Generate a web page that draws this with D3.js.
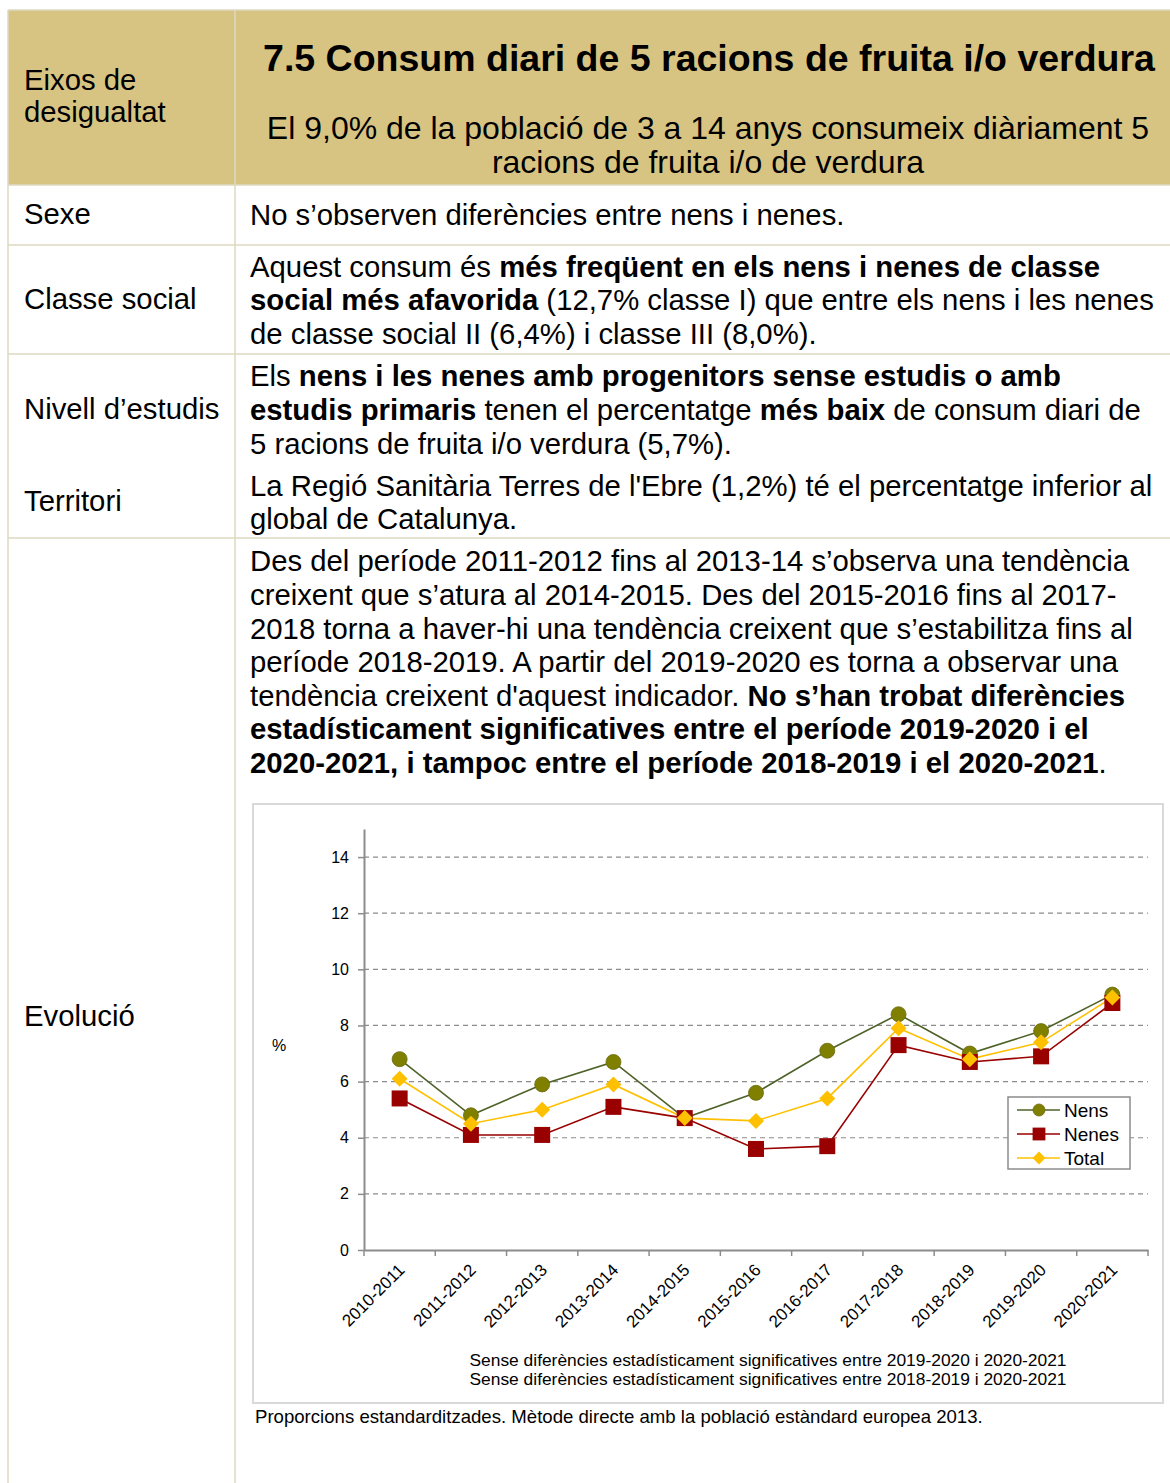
<!DOCTYPE html>
<html><head><meta charset="utf-8">
<script src="https://cdn.jsdelivr.net/npm/d3@7"></script>
<style>
html,body{margin:0;padding:0;background:#fff;}
svg text{font-family:"Liberation Sans",Arial,sans-serif;fill:#000;}
</style></head>
<body>
<svg id="chart" width="1170" height="1483"></svg>
<script>
// ---- data ----
const categories = ["2010-2011","2011-2012","2012-2013","2013-2014","2014-2015","2015-2016","2016-2017","2017-2018","2018-2019","2019-2020","2020-2021"];
const nens  = [6.8, 4.8, 5.9, 6.7, 4.7, 5.6, 7.1, 8.4, 7.0, 7.8, 9.1];
const nenes = [5.4, 4.1, 4.1, 5.1, 4.7, 3.6, 3.7, 7.3, 6.7, 6.9, 8.8];
const total = [6.1, 4.5, 5.0, 5.9, 4.7, 4.6, 5.4, 7.9, 6.8, 7.4, 9.0];
const yTicks = [0, 2, 4, 6, 8, 10, 12, 14];
const seriesNames = ["Nens", "Nenes", "Total"];
const notes = ["Sense diferències estadísticament significatives entre 2019-2020 i 2020-2021",
               "Sense diferències estadísticament significatives entre 2018-2019 i 2020-2021"];
const footer = "Proporcions estandarditzades. Mètode directe amb la població estàndard europea 2013.";

const svg = d3.select("#chart");
const lineC = "#ddd8c0";

// ---- table frame ----
svg.append("rect").attr("x",8).attr("y",10).attr("width",1162).attr("height",175).attr("fill","#d8c482");
[10,185,245,354,538].forEach(y=>{
  svg.append("line").attr("x1",8).attr("x2",1170).attr("y1",y).attr("y2",y).attr("stroke",lineC).attr("stroke-width",1.5);
});
[8,235].forEach(x=>{
  svg.append("line").attr("x1",x).attr("x2",x).attr("y1",10).attr("y2",1483).attr("stroke",lineC).attr("stroke-width",1.5);
});

function richLine(x, y, segs, size, anchor){
  const t = svg.append("text").attr("x",x).attr("y",y).attr("font-size",size).attr("text-anchor",anchor||"start");
  segs.forEach(s=>{
    t.append("tspan").text(s[0]).attr("font-weight", s[1] ? "bold" : "normal");
  });
  return t;
}
const FS = 29.3;
// left column labels
[["Eixos de",90],["desigualtat",122],["Sexe",224],["Classe social",309],["Nivell d’estudis",419],["Territori",511],["Evolució",1026]]
  .forEach(([t,y])=> richLine(24,y,[[t,false]],FS));

// header
richLine(709,71,[["7.5  Consum diari de 5 racions de fruita i/o verdura",true]],37.5,"middle");
richLine(708,139,[["El 9,0% de la població de 3 a 14 anys consumeix diàriament 5",false]],32,"middle");
richLine(708,173,[["racions de fruita i/o de verdura",false]],32,"middle");

const body = [
  [225, [["No s’observen diferències entre nens i nenes.",false]]],
  [277, [["Aquest consum és ",false],["més freqüent en els nens i nenes de classe",true]]],
  [310, [["social més afavorida",true],[" (12,7% classe I) que entre els nens i les nenes",false]]],
  [344, [["de classe social II (6,4%) i classe III (8,0%).",false]]],
  [386, [["Els ",false],["nens i les nenes amb progenitors sense estudis o amb",true]]],
  [420, [["estudis primaris",true],[" tenen el percentatge ",false],["més baix",true],[" de consum diari de",false]]],
  [454, [["5 racions de fruita i/o verdura (5,7%).",false]]],
  [496, [["La Regió Sanitària Terres de l'Ebre (1,2%) té el percentatge inferior al",false]]],
  [529, [["global de Catalunya.",false]]],
  [571, [["Des del període 2011-2012 fins al 2013-14 s’observa una tendència",false]]],
  [605, [["creixent que s’atura al 2014-2015. Des del 2015-2016 fins al 2017-",false]]],
  [639, [["2018 torna a haver-hi una tendència creixent que s’estabilitza fins al",false]]],
  [672, [["període 2018-2019. A partir del 2019-2020 es torna a observar una",false]]],
  [706, [["tendència creixent d'aquest indicador. ",false],["No s’han trobat diferències",true]]],
  [739, [["estadísticament significatives entre el període 2019-2020 i el",true]]],
  [773, [["2020-2021, i tampoc entre el període 2018-2019 i el 2020-2021",true],[".",false]]]
];
body.forEach(([y,segs])=> richLine(250,y,segs,FS));

// ---- chart ----
svg.append("rect").attr("x",253).attr("y",804).attr("width",910).attr("height",599)
  .attr("fill","#fff").attr("stroke","#d9d9d9").attr("stroke-width",2);

const x = d3.scaleBand().domain(categories).range([364,1148]);
const y = d3.scaleLinear().domain([0,15]).range([1250,829]);
const axisC = "#8c8c8c";

// gridlines
svg.append("g").selectAll("line").data(yTicks.filter(d=>d>0)).join("line")
  .attr("x1",364).attr("x2",1148).attr("y1",d=>y(d)).attr("y2",d=>y(d))
  .attr("stroke","#8c8c8c").attr("stroke-width",1.2).attr("stroke-dasharray","5,4");

// y axis
const yAxis = d3.axisLeft(y).tickValues(yTicks).tickSize(6).tickPadding(9).tickSizeOuter(0);
const gy = svg.append("g").attr("transform","translate(364,0)").call(yAxis);
gy.select(".domain").attr("stroke",axisC).attr("stroke-width",2);
gy.selectAll(".tick line").attr("stroke",axisC).attr("stroke-width",1.5);
gy.selectAll(".tick text").attr("font-size",16).attr("font-family","Liberation Sans, Arial, sans-serif").attr("fill","#000");

// x axis
const xAxis = d3.axisBottom(x).tickSize(0).tickSizeOuter(0);
const gx = svg.append("g").attr("transform","translate(0,1250)").call(xAxis);
gx.select(".domain").attr("stroke",axisC).attr("stroke-width",2);
gx.selectAll(".tick line").remove();
gx.selectAll(".tick text").attr("font-size",17).attr("font-family","Liberation Sans, Arial, sans-serif").attr("fill","#000")
  .attr("text-anchor","end").attr("dy",0).attr("y",0)
  .attr("transform","translate(6,21) rotate(-45)");
// boundary ticks
const bounds = categories.map(c=>x(c)).concat([x.range()[1]]);
svg.append("g").selectAll("line").data(bounds).join("line")
  .attr("x1",d=>d).attr("x2",d=>d).attr("y1",1250).attr("y2",1256)
  .attr("stroke",axisC).attr("stroke-width",1.5);

svg.append("text").attr("x",272).attr("y",1051).attr("font-size",16).text("%");

const cx = c => x(c) + x.bandwidth()/2;
const series = [
  {name:seriesNames[0], vals:nens,  line:"#4f6228", fill:"#7f7f00", shape:"circle"},
  {name:seriesNames[1], vals:nenes, line:"#990000", fill:"#990000", shape:"square"},
  {name:seriesNames[2], vals:total, line:"#ffc000", fill:"#ffc000", shape:"diamond"}
];
const lineGen = d3.line().x((d,i)=>cx(categories[i])).y(d=>y(d));
function marker(g, shape, fill, px, py, scale){
  scale = scale||1;
  if(shape==="circle") g.append("circle").attr("cx",px).attr("cy",py).attr("r",7.5*scale).attr("fill",fill).attr("stroke","#6b6b10").attr("stroke-width",0.8);
  else if(shape==="square") g.append("rect").attr("x",px-8*scale).attr("y",py-8*scale).attr("width",16*scale).attr("height",16*scale).attr("fill",fill);
  else g.append("path").attr("d",`M${px},${py-8*scale}L${px+8*scale},${py}L${px},${py+8*scale}L${px-8*scale},${py}Z`).attr("fill",fill);
}
series.forEach(s=>{
  svg.append("path").attr("d",lineGen(s.vals)).attr("fill","none").attr("stroke",s.line).attr("stroke-width",1.6);
});
series.forEach(s=>{
  const g = svg.append("g");
  s.vals.forEach((v,i)=> marker(g, s.shape, s.fill, cx(categories[i]), y(v)));
});

// legend
const lg = svg.append("g");
lg.append("rect").attr("x",1008).attr("y",1097).attr("width",122).attr("height",72)
  .attr("fill","#fff").attr("stroke","#8c8c8c").attr("stroke-width",1.5);
series.forEach((s,i)=>{
  const ly = 1110 + i*24;
  lg.append("line").attr("x1",1017).attr("x2",1060).attr("y1",ly).attr("y2",ly).attr("stroke",s.line).attr("stroke-width",1.6);
  marker(lg, s.shape, s.fill, 1039, ly, 0.8);
  lg.append("text").attr("x",1064).attr("y",ly+7).attr("font-size",19).text(s.name);
});

// notes
notes.forEach((n,i)=>{
  svg.append("text").attr("x",768).attr("y",1366+i*19).attr("font-size",16).attr("text-anchor","middle")
    .attr("textLength",597).attr("lengthAdjust","spacingAndGlyphs").text(n);
});
svg.append("text").attr("x",255).attr("y",1423).attr("font-size",18.6).text(footer);
</script>
</body></html>
